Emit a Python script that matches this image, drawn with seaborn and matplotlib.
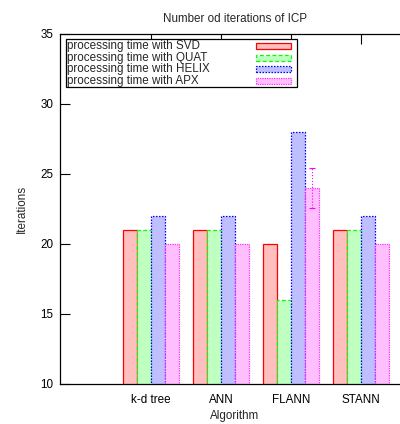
import matplotlib
matplotlib.use("Agg")
import matplotlib.pyplot as plt
import matplotlib.patches as mpatches
import seaborn as sns
import pandas as pd

categories = ["k-d tree", "ANN", "FLANN", "STANN"]
series = ["processing time with SVD", "processing time with QUAT",
          "processing time with HELIX", "processing time with APX"]
svd = [21, 21, 20, 21]
quat = [21, 21, 16, 21]
helix = [22, 22, 28, 22]
apx = [20, 20, 24, 20]
apx_err = [0, 0, 1.43, 0]

title = "Number od iterations of ICP"
xlabel = "Algorithm"
ylabel = "Iterations"
yticks = [10, 15, 20, 25, 30, 35]

edge_colors = ["#ff0000", "#00ff00", "#0000ff", "#ff00ff"]
fill_colors = ["#ffbfbf", "#bfffbf", "#bfbfff", "#ffbfff"]
line_styles = ["-", (0, (3, 2)), (0, (1.2, 1.2)), (0, (0.6, 0.8))]

rows = []
for name, vals in zip(series, [svd, quat, helix, apx]):
    for c, v in zip(categories, vals):
        rows.append({"Algorithm": c, "series": name, "value": v})
df = pd.DataFrame(rows)

sns.set_style("white")
plt.rcParams["font.family"] = ["Liberation Sans", "DejaVu Sans"]
fs = 8.4

fig = plt.figure(figsize=(4.0, 4.24), dpi=100)
ax = fig.add_axes([60 / 400, 40 / 424, 350 / 400, 350 / 424])

sns.barplot(data=df, x="Algorithm", y="value", hue="series", order=categories,
            hue_order=series, palette=fill_colors, errorbar=None, width=0.8,
            saturation=1, legend=False, ax=ax, zorder=1)

for i, cont in enumerate(ax.containers):
    for bar in cont:
        bar.set_edgecolor(edge_colors[i])
        bar.set_linestyle(line_styles[i])
        bar.set_linewidth(0.9)

# error bar on APX series
apx_cont = ax.containers[3]
for bar, v, e in zip(apx_cont, apx, apx_err):
    if e > 0:
        xc = bar.get_x() + bar.get_width() / 2
        eb = ax.errorbar([xc], [v], yerr=[e], fmt="none", ecolor="#ff00ff",
                         elinewidth=0.8, capsize=2, capthick=0.8, zorder=3)
        for lc in eb.lines[2]:
            lc.set_linestyle(":")

ax.set_xlim(-1.3, 3.7)
ax.set_ylim(10, 35)
ax.set_yticks(yticks)
ax.set_yticklabels([str(t) for t in yticks], fontsize=fs)
ax.set_xticks(range(len(categories)))
ax.set_xticklabels(categories, fontsize=fs)
ax.tick_params(axis="y", which="both", direction="in", length=7, width=0.8,
               left=True, right=True, pad=5, labelsize=fs, colors="black")
ax.tick_params(axis="x", which="both", direction="in", length=7, width=0.8,
               bottom=False, top=True, pad=7, labelsize=fs, colors="black")
for s in ax.spines.values():
    s.set_visible(True)
    s.set_color("black")
    s.set_linewidth(0.9)

ax.set_title(title, fontsize=fs, pad=9)
ax.set_xlabel(xlabel, fontsize=fs, labelpad=3)
ax.set_ylabel(ylabel, fontsize=fs, labelpad=9)

# manual gnuplot-style legend
W, H = 350.0, 350.0
box = mpatches.Rectangle((6 / W, (384 - 87) / H), 231 / W, 48 / H,
                         transform=ax.transAxes, facecolor="white",
                         edgecolor="black", linewidth=0.9, zorder=2)
ax.add_patch(box)
ycent = [46, 57.5, 69, 81]
for i, name in enumerate(series):
    yc = (384 - ycent[i]) / H
    ax.text(7 / W, yc, name, transform=ax.transAxes, fontsize=fs,
            va="center", ha="left", zorder=2.2)
    r = mpatches.Rectangle((196 / W, yc - 3 / H), 35 / W, 6 / H,
                           transform=ax.transAxes, facecolor=fill_colors[i],
                           edgecolor=edge_colors[i], linestyle=line_styles[i],
                           linewidth=0.9, zorder=2.1)
    ax.add_patch(r)

fig.savefig("out.png", dpi=100)
